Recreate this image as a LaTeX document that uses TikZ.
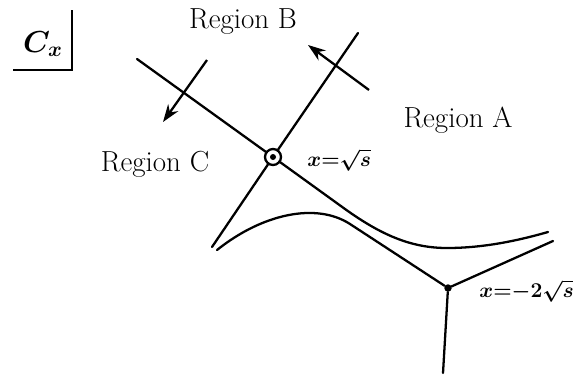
\documentclass[tikz,border=0pt]{standalone}
\usetikzlibrary{arrows.meta}
\begin{document}
\begin{tikzpicture}[x=0.02cm,y=-0.02cm,
  curve/.style={line width=1.3pt,line cap=round},
  arr/.style={line width=1.3pt,-{Stealth[length=10pt,width=7pt]}},
  region/.style={font=\fontsize{16.5}{19}\selectfont,inner sep=0pt},
  mlabel/.style={font=\fontsize{12}{14}\selectfont\boldmath,inner sep=0pt,anchor=west}]
\useasboundingbox (0,0) rectangle (573,376);
% C_x box
\node[font=\fontsize{17}{20}\selectfont\boldmath] (cx) at (43,44) {$C_x$};
\coordinate (bt) at (72,10);
\coordinate (bc) at (72,70);
\coordinate (bl) at (13,70);
\draw[line width=1pt] (bt) -- (bc) -- (bl);
% critical points
\node[circle,draw,line width=1.3pt,fill=white,minimum size=0.32cm,inner sep=0pt] (p1) at (273,157) {};
\fill (p1.center) circle[radius=0.06cm];
\node[circle,fill,minimum size=0.15cm,inner sep=0pt] (p2) at (448,288) {};
% endpoints
\coordinate (a1) at (137,59);
\coordinate (a2) at (345,209);
\coordinate (amin) at (447,248);
\coordinate (a3) at (548,232);
\coordinate (b1) at (358,33);
\coordinate (b2) at (212,247);
\coordinate (c1) at (217,250);
\coordinate (c2) at (350,224);
\coordinate (d1) at (553,241);
\coordinate (d2) at (443,373);
% curves
\draw[curve] (a1) -- (p1);
\draw[curve] (p1) -- (a2) .. controls (380,234) and (410,248) .. (amin) .. controls (485,248) and (520,240) .. (a3);
\draw[curve] (b1) -- (p1);
\draw[curve] (p1) -- (b2);
\draw[curve] (c1) .. controls (262,214) and (316,202) .. (c2) -- (p2);
\draw[curve] (p2) -- (d1);
\draw[curve] (p2) -- (d2);
% arrows
\coordinate (r1s) at (207,60);
\coordinate (r1e) at (163,122);
\coordinate (r2s) at (369,90);
\coordinate (r2e) at (308,45);
\draw[arr] (r1s) -- (r1e);
\draw[arr] (r2s) -- (r2e);
% labels
\node[region] (rb) at (243,22) {Region B};
\node[region] (ra) at (458,120) {Region A};
\node[region] (rc) at (155,164) {Region C};
\node[mlabel] (l1) at (307,160) {$x{=}\sqrt{s}$};
\node[mlabel] (l2) at (479,291) {$x{=}{-}2\sqrt{s}$};
\end{tikzpicture}
\end{document}
